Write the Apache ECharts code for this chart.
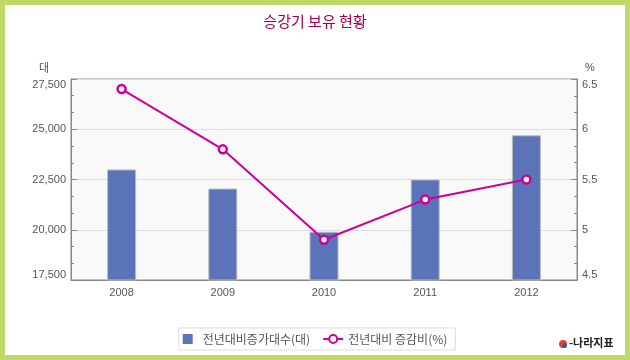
<!DOCTYPE html>
<html><head><meta charset="utf-8">
<script src="https://cdn.jsdelivr.net/npm/echarts@6/dist/echarts.min.js"></script>
<style>html,body{margin:0;padding:0;background:#fff}#c{width:630px;height:360px}</style>
</head><body><div id="c"></div>
<script>
const categories = ['2008','2009','2010','2011','2012'];
const barValues = [23000, 22050, 19900, 22500, 24700];
const lineValues = [6.4, 5.8, 4.9, 5.3, 5.5];
const leftTicks = [17500, 27500, 2500];
const rightTicks = [4.5, 6.5, 0.5];
const barName = '전년대비증가대수(대)';
const lineName = '전년대비 증감비(%)';
const titleText = '승강기 보유 현황';

const chart = echarts.init(document.getElementById('c'));
const font = '"Liberation Sans", "Noto Sans CJK KR", sans-serif';
const kfont = '"Noto Sans CJK KR", sans-serif';
chart.setOption({
  animation: false,
  backgroundColor: '#fff',
  title: { text: titleText, left: 'center', top: 9,
    textStyle: { color: '#9c0050', fontSize: 15, fontWeight: 'normal', fontFamily: kfont } },
  grid: { left: 71, right: 53, top: 79, bottom: 80, show: true,
    backgroundColor: '#f9f9f9', borderColor: '#888', borderWidth: 1 },
  legend: {
    bottom: 10, left: 'center', orient: 'horizontal',
    borderColor: '#ddd', borderWidth: 1, padding: [5, 8, 5, 4],
    itemWidth: 20, itemHeight: 10, itemGap: 12,
    textStyle: { color: '#555', fontSize: 12, fontFamily: kfont },
    data: [
      { name: barName, icon: 'path://M0,0h10v10h-10z', itemStyle: { borderWidth: 0 } },
      { name: lineName }
    ]
  },
  xAxis: {
    type: 'category', data: categories,
    axisLine: { lineStyle: { color: '#888' } },
    axisTick: { show: false },
    axisLabel: { color: '#555', fontSize: 11, fontFamily: font, margin: 7 }
  },
  yAxis: [
    { type: 'value', min: leftTicks[0], max: leftTicks[1], interval: leftTicks[2],
      name: '대', nameGap: 6, nameLocation: 'end',
      nameTextStyle: { color: '#555', fontSize: 11, fontFamily: kfont, align: 'right', padding: [0, 22, 0, 0] },
      axisLine: { show: true, lineStyle: { color: '#888' } },
      axisTick: { show: true, inside: true, length: 6, lineStyle: { color: '#888' } },
      minorTick: { show: true, splitNumber: 3, length: 3, lineStyle: { color: '#888' } },
      splitLine: { show: true, lineStyle: { color: '#ddd' } },
      axisLabel: { color: '#555', fontSize: 11, fontFamily: font, margin: 5,
        verticalAlignMaxLabel: 'top', verticalAlignMinLabel: 'bottom',
        formatter: v => v.toLocaleString('en-US') } },
    { type: 'value', min: rightTicks[0], max: rightTicks[1], interval: rightTicks[2],
      name: '%', nameGap: 6, nameLocation: 'end',
      nameTextStyle: { color: '#555', fontSize: 11, fontFamily: font, align: 'left', padding: [0, 0, 0, 8] },
      axisLine: { show: true, lineStyle: { color: '#888' } },
      axisTick: { show: true, inside: true, length: 6, lineStyle: { color: '#888' } },
      minorTick: { show: true, splitNumber: 3, length: 3, lineStyle: { color: '#888' } },
      splitLine: { show: false },
      axisLabel: { color: '#555', fontSize: 11, fontFamily: font, margin: 5,
        verticalAlignMaxLabel: 'top', verticalAlignMinLabel: 'bottom' } }
  ],
  series: [
    { name: barName, type: 'bar', data: barValues, barWidth: 29, yAxisIndex: 0,
      itemStyle: { color: '#5b73b8', borderColor: '#bbb', borderWidth: 1 } },
    { name: lineName, type: 'line', data: lineValues, yAxisIndex: 1,
      symbol: 'circle', symbolSize: 8,
      lineStyle: { color: '#cc0099', width: 2 },
      itemStyle: { color: '#fff', borderColor: '#cc0099', borderWidth: 2.5 } }
  ],
  graphic: [
    { type: 'rect', shape: { x: 2.5, y: 2.5, width: 625, height: 355 },
      style: { fill: 'none', stroke: '#bfd966', lineWidth: 5 }, z: 100 },
    { type: 'circle', shape: { cx: 563, cy: 344, r: 4 }, style: { fill: '#e8412c' } },
    { type: 'circle', shape: { cx: 564.5, cy: 345.5, r: 2.5 }, style: { fill: '#2a5cb8' } },
    { type: 'text', left: 569, top: 337,
      style: { text: '-나라지표', fill: '#222', font: 'bold 11px "Noto Sans CJK KR", sans-serif' } }
  ]
});
</script></body></html>
